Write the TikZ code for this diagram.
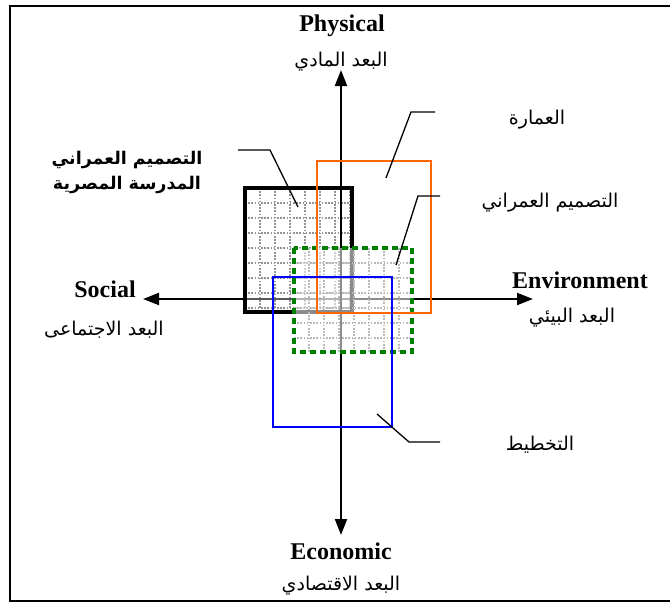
\documentclass[tikz,border=0pt]{standalone}
\usepackage{fontspec}
\setmainfont{Liberation Serif}
\newfontfamily\arabicfont[Script=Arabic]{DejaVu Sans}
\TeXXeTstate=1
\usetikzlibrary{arrows.meta}
\newcommand{\artxt}[1]{{\arabicfont\beginR #1\endR}}
\begin{document}
\begin{tikzpicture}[x=1pt,y=-1pt,
  axisline/.style={line width=2pt,{Triangle[length=16pt,width=12pt]}-{Triangle[length=16pt,width=12pt]}},
  entxt/.style={font=\fontsize{24}{28}\selectfont\bfseries, inner sep=0pt},
  artx/.style={font=\fontsize{19}{24}\selectfont, inner sep=0pt},
  leader/.style={line width=1.3pt, black},
  gridl/.style={gray!85, dash pattern=on 1.6pt off 1.6pt, line width=1.3pt},
  gridlt/.style={gray!55, dash pattern=on 1.6pt off 1.6pt, line width=1.3pt},
  boxn/.style={anchor=north west, inner sep=0pt, outer sep=0pt}]
\useasboundingbox (0,0) rectangle (670,605);
% frame
\draw[line width=1.6pt] (672,6) -- (10,6) -- (10,601) -- (672,601);

% axes
\coordinate (ctop) at (341,70);
\coordinate (cbot) at (341,535);
\coordinate (cleft) at (143,299);
\coordinate (cright) at (533,299);
\draw[axisline] (cleft) -- (cright);

% black box (Egyptian school) with grid
\node[boxn, minimum width=107pt, minimum height=124pt, fill=white, fill opacity=0.35] (egy) at (245,188) {};
\begin{scope}
  \clip (egy.north west) rectangle (egy.south east);
  \foreach \x in {260,275,...,350} \draw[gridl] (\x,188) -- (\x,312);
  \foreach \y in {203,218,...,310} \draw[gridl] (245,\y) -- (352,\y);
\end{scope}
\draw[line width=3.5pt] (egy.north west) rectangle (egy.south east);

\draw[axisline] (cbot) -- (ctop);

% green dashed box (urban design) with light grid
\node[boxn, minimum width=118pt, minimum height=104pt, fill=white, fill opacity=0.55] (urb) at (294,248) {};
\begin{scope}
  \clip (urb.north west) rectangle (urb.south east);
  \foreach \x in {309,324,...,410} \draw[gridlt] (\x,248) -- (\x,352);
  \foreach \y in {263,278,...,350} \draw[gridlt] (294,\y) -- (412,\y);
\end{scope}
\draw[line width=3.5pt, draw={rgb,255:red,0;green,128;blue,0}, dash pattern=on 6pt off 4pt] (urb.north west) rectangle (urb.south east);

% orange box (architecture)
\node[boxn, minimum width=114pt, minimum height=152pt, draw={rgb,255:red,255;green,102;blue,0}, line width=2.5pt] (arch) at (317,161) {};

% blue box (planning)
\node[boxn, minimum width=119pt, minimum height=150pt, draw={rgb,255:red,0;green,0;blue,255}, line width=2.5pt] (plan) at (273,277) {};

% axis labels
\node[entxt] (phys) at (342,26) {Physical};
\node[artx] (physar) at (341,62) {\artxt{البعد المادي}};
\node[entxt] (soc) at (105,289) {Social};
\node[artx] (socar) at (104,330) {\artxt{البعد الاجتماعى}};
\node[entxt] (env) at (580,280) {Environment};
\node[artx] (envar) at (572,318) {\artxt{البعد البيئي}};
\node[entxt] (eco) at (341,551) {Economic};
\node[artx] (ecoar) at (341,586) {\artxt{البعد الاقتصادي}};

% item labels
\node[artx] (archl) at (537,120) {\artxt{العمارة}};
\node[artx] (urbl) at (550,203) {\artxt{التصميم العمراني}};
\node[artx] (planl) at (540,445) {\artxt{التخطيط}};
\node[artx, font=\fontsize{17.5}{25}\selectfont\bfseries, align=center] (egyl) at (127,172)
  {\artxt{التصميم العمراني}\\\artxt{المدرسة المصرية}};

% leaders
\coordinate (e1) at (238,150); \coordinate (e2) at (270,150); \coordinate (e3) at (298,207);
\draw[leader] (e1) -- (e2) -- (e3);
\coordinate (a1) at (435,112); \coordinate (a2) at (411,112); \coordinate (a3) at (386,178);
\draw[leader] (a1) -- (a2) -- (a3);
\coordinate (u1) at (440,196); \coordinate (u2) at (418,196); \coordinate (u3) at (396,265);
\draw[leader] (u1) -- (u2) -- (u3);
\coordinate (p1) at (377,414); \coordinate (p2) at (409,442); \coordinate (p3) at (440,442);
\draw[leader] (p1) -- (p2) -- (p3);
\end{tikzpicture}
\end{document}
